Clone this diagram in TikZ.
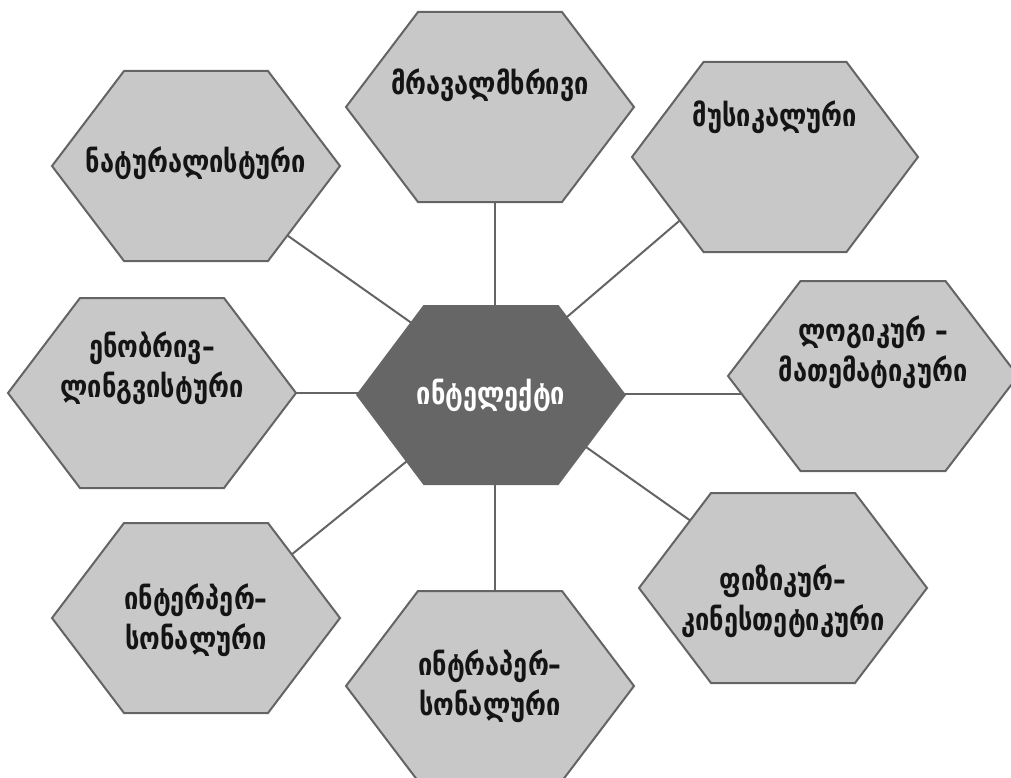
\documentclass[tikz,border=0pt]{standalone}
\usepackage{fontspec}
\setmainfont{DejaVu Sans}
\newfontfamily\geo[FakeStretch=0.82]{DejaVu Sans}
\usetikzlibrary{calc}
\definecolor{hexfill}{RGB}{200,200,200}
\definecolor{hexline}{RGB}{100,100,100}
\definecolor{hubfill}{RGB}{102,102,102}
\definecolor{txt}{RGB}{20,20,20}
\newcommand\myhex[4]{\path[#1] ($(#2)+(-#3,0)$) -- ($(#2)+(-#3/2,-#4)$) -- ($(#2)+(#3/2,-#4)$) -- ($(#2)+(#3,0)$) -- ($(#2)+(#3/2,#4)$) -- ($(#2)+(-#3/2,#4)$) -- cycle;}
\tikzset{
  outerhex/.style={fill=hexfill, draw=hexline, line width=2pt, line join=miter},
  hubhex/.style={fill=hubfill},
  conn/.style={draw=hexline, line width=2pt},
  lbl/.style={text=txt, align=center, font=\geo\bfseries\fontsize{31}{40}\selectfont, inner sep=0pt},
  hublbl/.style={text=white, align=center, font=\geo\bfseries\fontsize{31}{40}\selectfont, inner sep=0pt}
}
\begin{document}
\begin{tikzpicture}[x=1pt,y=-1pt]
\useasboundingbox (0,0) rectangle (1011,778);
% hex centres
\coordinate (hub) at (491,395);
\coordinate (nat) at (196,166);
\coordinate (mra) at (490,107);
\coordinate (mus) at (775,157);
\coordinate (log) at (873,376);
\coordinate (eno) at (152,393);
\coordinate (inter) at (196,618);
\coordinate (intra) at (490,686);
\coordinate (phy) at (783,588);
% connectors
\draw[conn] ($(hub)+(0,-16)$) -- ($(nat)+(0,5)$);
\draw[conn] ($(hub)+(4,0)$) -- ($(mra)+(5,0)$);
\draw[conn] ($(hub)+(0,-13)$) -- ($(mus)+(0,-18)$);
\draw[conn] ($(hub)+(0,-1)$) -- ($(log)+(0,18)$);
\draw[conn] ($(hub)+(0,-15)$) -- ($(phy)+(0,-2)$);
\draw[conn] ($(hub)+(4,0)$) -- ($(intra)+(5,0)$);
\draw[conn] ($(hub)+(0,-2)$) -- ($(inter)+(0,14)$);
\draw[conn] ($(hub)+(0,-2)$) -- ($(eno)+(0,0)$);
% hexagons
\myhex{hubhex}{hub}{135}{90}
\myhex{outerhex}{nat}{144}{95}
\myhex{outerhex}{mra}{144}{95}
\myhex{outerhex}{mus}{143}{95}
\myhex{outerhex}{log}{145}{95}
\myhex{outerhex}{eno}{144}{95}
\myhex{outerhex}{inter}{144}{95}
\myhex{outerhex}{intra}{144}{95}
\myhex{outerhex}{phy}{144}{95}
% labels
\node[hublbl] (hubT) at (hub) {ინტელექტი};
\node[lbl] (natT) at ($(nat)+(0,-3)$) {ნატურალისტური};
\node[lbl] (mraT) at ($(mra)+(0,-22)$) {მრავალმხრივი};
\node[lbl] (musT) at ($(mus)+(0,-40)$) {მუსიკალური};
\node[lbl] (logT) at ($(log)+(0,-24)$) {ლოგიკურ –\\მათემატიკური};
\node[lbl] (enoT) at ($(eno)+(0,-25)$) {ენობრივ–\\ლინგვისტური};
\node[lbl] (interT) at ($(inter)+(0,2)$) {ინტერპერ–\\სონალური};
\node[lbl] (intraT) at ($(intra)+(0,0)$) {ინტრაპერ–\\სონალური};
\node[lbl] (phyT) at ($(phy)+(0,13)$) {ფიზიკურ–\\კინესთეტიკური};
\end{tikzpicture}
\end{document}
